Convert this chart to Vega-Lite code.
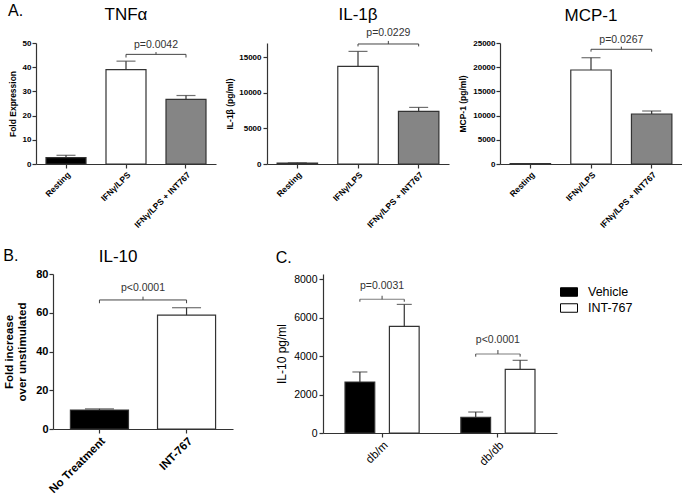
{
  "$schema": "https://vega.github.io/schema/vega-lite/v6.json",
  "background": "white",
  "padding": {"left": 3, "top": 2, "right": 0, "bottom": 0},
  "config": {
    "view": {"stroke": null},
    "font": "Liberation Sans",
    "axis": {"grid": false, "domainColor": "#333", "tickColor": "#333", "labelColor": "#000", "titleColor": "#000", "labelFont": "Liberation Sans", "titleFont": "Liberation Sans", "domainWidth": 1.2, "tickWidth": 1.2, "tickSize": 4},
    "axisY": {"labelOverlap": false},
    "title": {"font": "Liberation Sans", "fontWeight": "normal", "fontSize": 17, "color": "#000"},
    "text": {"font": "Liberation Sans"}
  },
  "datasets": {
    "tnf": [{"c": "Resting", "v": 2.6, "e": 3.6}, {"c": "IFNγ/LPS", "v": 39.0, "e": 42.5}, {"c": "IFNγ/LPS + INT767", "v": 26.7, "e": 28.3}],
    "tnf_a": [{"k": "cap", "c": "Resting", "v": 3.6}, {"k": "cap", "c": "IFNγ/LPS", "v": 42.5}, {"k": "cap", "c": "IFNγ/LPS + INT767", "v": 28.3},
              {"k": "end", "c": "IFNγ/LPS", "v": 45.3, "v2": 44.0}, {"k": "end", "c": "IFNγ/LPS + INT767", "v": 45.3, "v2": 44.0},
              {"k": "mid", "c": "IFNγ/LPS", "v": 45.3, "v2": 46.25}, {"k": "p", "c": "IFNγ/LPS", "v": 47.8, "p": "p=0.0042"}],
    "il1b": [{"c": "Resting", "v": 120, "e": 160}, {"c": "IFNγ/LPS", "v": 13710, "e": 15820}, {"c": "IFNγ/LPS + INT767", "v": 7390, "e": 7950}],
    "il1b_a": [{"k": "cap", "c": "Resting", "v": 160}, {"k": "cap", "c": "IFNγ/LPS", "v": 15820}, {"k": "cap", "c": "IFNγ/LPS + INT767", "v": 7950},
               {"k": "end", "c": "IFNγ/LPS", "v": 16860, "v2": 16520}, {"k": "end", "c": "IFNγ/LPS + INT767", "v": 16860, "v2": 16520},
               {"k": "mid", "c": "IFNγ/LPS", "v": 16860, "v2": 17290}, {"k": "p", "c": "IFNγ/LPS", "v": 18030, "p": "p=0.0229"}],
    "mcp": [{"c": "Resting", "v": 60, "e": 80}, {"c": "IFNγ/LPS", "v": 19420, "e": 21960}, {"c": "IFNγ/LPS + INT767", "v": 10330, "e": 10950}],
    "mcp_a": [{"k": "cap", "c": "Resting", "v": 80}, {"k": "cap", "c": "IFNγ/LPS", "v": 21960}, {"k": "cap", "c": "IFNγ/LPS + INT767", "v": 10950},
              {"k": "end", "c": "IFNγ/LPS", "v": 23700, "v2": 23210}, {"k": "end", "c": "IFNγ/LPS + INT767", "v": 23700, "v2": 23210},
              {"k": "mid", "c": "IFNγ/LPS", "v": 23700, "v2": 24240}, {"k": "p", "c": "IFNγ/LPS", "v": 25060, "p": "p=0.0267"}],
    "il10": [{"c": "No Treatment", "v": 9.8, "e": 10.4}, {"c": "INT-767", "v": 58.8, "e": 62.6}],
    "il10_a": [{"k": "cap", "c": "No Treatment", "v": 10.4}, {"k": "cap", "c": "INT-767", "v": 62.6},
               {"k": "end", "c": "No Treatment", "v": 66.6, "v2": 64.9}, {"k": "end", "c": "INT-767", "v": 66.6, "v2": 64.9},
               {"k": "mid", "c": "No Treatment", "v": 66.6, "v2": 68.3}, {"k": "p", "c": "No Treatment", "v": 71.4, "p": "p<0.0001"}],
    "cc": [{"g": "db/m", "t": "Vehicle", "v": 2650, "e": 3170}, {"g": "db/m", "t": "INT-767", "v": 5540, "e": 6680}, {"g": "db/db", "t": "Vehicle", "v": 815, "e": 1090}, {"g": "db/db", "t": "INT-767", "v": 3310, "e": 3775}],
    "cc_a": [{"k": "cap", "g": "db/m", "t": "Vehicle", "v": 3170}, {"k": "cap", "g": "db/m", "t": "INT-767", "v": 6680}, {"k": "cap", "g": "db/db", "t": "Vehicle", "v": 1090}, {"k": "cap", "g": "db/db", "t": "INT-767", "v": 3775},
             {"k": "end", "g": "db/m", "t": "Vehicle", "v": 6945, "v2": 6820}, {"k": "end", "g": "db/m", "t": "INT-767", "v": 6945, "v2": 6820},
             {"k": "end", "g": "db/db", "t": "Vehicle", "v": 4105, "v2": 3965}, {"k": "end", "g": "db/db", "t": "INT-767", "v": 4105, "v2": 3965},
             {"k": "mid", "g": "db/m", "v": 6945, "v2": 7130}, {"k": "mid", "g": "db/db", "v": 4105, "v2": 4310},
             {"k": "p", "g": "db/m", "v": 7465, "p": "p=0.0031"}, {"k": "p", "g": "db/db", "v": 4660, "p": "p<0.0001"}]
  },
  "columns": 1,
  "align": "none",
  "spacing": 19,
  "resolve": {"scale": {"fill": "independent"}, "legend": {"fill": "independent"}},
  "concat": [
    {
      "title": {"text": "A.", "anchor": "start", "frame": "bounds", "offset": -13, "fontSize": 16},
      "spacing": 9,
      "resolve": {"scale": {"fill": "independent"}, "legend": {"fill": "independent"}},
      "hconcat": [
        {
          "width": 180, "height": 121,
          "title": {"text": "TNFα", "offset": 15},
          "encoding": {
            "x": {"field": "c", "type": "nominal", "title": null, "scale": {"domain": ["Resting", "IFNγ/LPS", "IFNγ/LPS + INT767"], "paddingInner": 0.3333, "paddingOuter": 0.1667}, "axis": {"labelAngle": -45, "labelFontWeight": "bold", "labelFontSize": 8.5, "labelPadding": 2}},
            "y": {"field": "v", "type": "quantitative", "title": "Fold Expression", "scale": {"domain": [0, 50], "nice": false}, "axis": {"values": [0, 10, 20, 30, 40, 50], "format": "d", "labelOverlap": false, "labelFontWeight": "bold", "labelFontSize": 8, "titleFontWeight": "bold", "titleFontSize": 8.5, "labelPadding": 1, "titlePadding": 5}}
          },
          "layer": [
            {"data": {"name": "tnf"}, "mark": {"type": "bar", "stroke": "#333", "strokeWidth": 1.2},
             "encoding": {"fill": {"field": "c", "type": "nominal", "legend": null, "scale": {"domain": ["Resting", "IFNγ/LPS", "IFNγ/LPS + INT767"], "range": ["#000000", "#ffffff", "#858585"]}}}},
            {"data": {"name": "tnf"}, "mark": {"type": "rule", "stroke": "#333", "strokeWidth": 1.2}, "encoding": {"y2": {"field": "e"}}},
            {"data": {"name": "tnf_a"}, "transform": [{"filter": "datum.k === 'cap'"}], "mark": {"type": "tick", "size": 19, "thickness": 1.2, "color": "#333"}, "encoding": {}},
            {"data": {"name": "tnf_a"}, "transform": [{"filter": "datum.k === 'end'"}], "mark": {"type": "line", "stroke": "#444", "strokeWidth": 1}, "encoding": {}},
            {"data": {"name": "tnf_a"}, "transform": [{"filter": "datum.k === 'end'"}], "mark": {"type": "rule", "stroke": "#444", "strokeWidth": 1}, "encoding": {"y2": {"field": "v2"}}},
            {"data": {"name": "tnf_a"}, "transform": [{"filter": "datum.k === 'mid'"}], "mark": {"type": "rule", "stroke": "#444", "strokeWidth": 1},
             "encoding": {"x": {"field": "c", "type": "nominal", "bandPosition": 1.25, "title": null, "scale": {"domain": ["Resting", "IFNγ/LPS", "IFNγ/LPS + INT767"], "paddingInner": 0.3333, "paddingOuter": 0.1667}, "axis": {"labelAngle": -45, "labelFontWeight": "bold", "labelFontSize": 8.5, "labelPadding": 2}}, "y2": {"field": "v2"}}},
            {"data": {"name": "tnf_a"}, "transform": [{"filter": "datum.k === 'p'"}], "mark": {"type": "text", "fontSize": 10.5, "baseline": "alphabetic", "color": "#333"},
             "encoding": {"x": {"field": "c", "type": "nominal", "bandPosition": 1.25, "title": null, "scale": {"domain": ["Resting", "IFNγ/LPS", "IFNγ/LPS + INT767"], "paddingInner": 0.3333, "paddingOuter": 0.1667}, "axis": {"labelAngle": -45, "labelFontWeight": "bold", "labelFontSize": 8.5, "labelPadding": 2}}, "text": {"field": "p"}}}
          ]
        },
        {
          "width": 182, "height": 121,
          "title": {"text": "IL-1β", "offset": 4},
          "encoding": {
            "x": {"field": "c", "type": "nominal", "title": null, "scale": {"domain": ["Resting", "IFNγ/LPS", "IFNγ/LPS + INT767"], "paddingInner": 0.3333, "paddingOuter": 0.1667}, "axis": {"labelAngle": -45, "labelFontWeight": "bold", "labelFontSize": 8.5, "labelPadding": 2}},
            "y": {"field": "v", "type": "quantitative", "title": "IL-1β (pg/ml)", "scale": {"domain": [0, 17000], "nice": false}, "axis": {"values": [0, 5000, 10000, 15000], "format": "d", "labelOverlap": false, "labelFontWeight": "bold", "labelFontSize": 8, "titleFontWeight": "bold", "titleFontSize": 8.5, "labelPadding": 2, "titlePadding": 4}}
          },
          "layer": [
            {"data": {"name": "il1b"}, "mark": {"type": "bar", "stroke": "#333", "strokeWidth": 1.2},
             "encoding": {"fill": {"field": "c", "type": "nominal", "legend": null, "scale": {"domain": ["Resting", "IFNγ/LPS", "IFNγ/LPS + INT767"], "range": ["#000000", "#ffffff", "#858585"]}}}},
            {"data": {"name": "il1b"}, "mark": {"type": "rule", "stroke": "#333", "strokeWidth": 1.2}, "encoding": {"y2": {"field": "e"}}},
            {"data": {"name": "il1b_a"}, "transform": [{"filter": "datum.k === 'cap'"}], "mark": {"type": "tick", "size": 19, "thickness": 1.2, "color": "#333"}, "encoding": {}},
            {"data": {"name": "il1b_a"}, "transform": [{"filter": "datum.k === 'end'"}], "mark": {"type": "line", "stroke": "#444", "strokeWidth": 1}, "encoding": {}},
            {"data": {"name": "il1b_a"}, "transform": [{"filter": "datum.k === 'end'"}], "mark": {"type": "rule", "stroke": "#444", "strokeWidth": 1}, "encoding": {"y2": {"field": "v2"}}},
            {"data": {"name": "il1b_a"}, "transform": [{"filter": "datum.k === 'mid'"}], "mark": {"type": "rule", "stroke": "#444", "strokeWidth": 1},
             "encoding": {"x": {"field": "c", "type": "nominal", "bandPosition": 1.25, "title": null, "scale": {"domain": ["Resting", "IFNγ/LPS", "IFNγ/LPS + INT767"], "paddingInner": 0.3333, "paddingOuter": 0.1667}, "axis": {"labelAngle": -45, "labelFontWeight": "bold", "labelFontSize": 8.5, "labelPadding": 2}}, "y2": {"field": "v2"}}},
            {"data": {"name": "il1b_a"}, "transform": [{"filter": "datum.k === 'p'"}], "mark": {"type": "text", "fontSize": 10.5, "baseline": "alphabetic", "color": "#333"},
             "encoding": {"x": {"field": "c", "type": "nominal", "bandPosition": 1.25, "title": null, "scale": {"domain": ["Resting", "IFNγ/LPS", "IFNγ/LPS + INT767"], "paddingInner": 0.3333, "paddingOuter": 0.1667}, "axis": {"labelAngle": -45, "labelFontWeight": "bold", "labelFontSize": 8.5, "labelPadding": 2}}, "text": {"field": "p"}}}
          ]
        },
        {
          "width": 182, "height": 121,
          "title": {"text": "MCP-1", "offset": 10},
          "encoding": {
            "x": {"field": "c", "type": "nominal", "title": null, "scale": {"domain": ["Resting", "IFNγ/LPS", "IFNγ/LPS + INT767"], "paddingInner": 0.3333, "paddingOuter": 0.1667}, "axis": {"labelAngle": -45, "labelFontWeight": "bold", "labelFontSize": 8.5, "labelPadding": 2}},
            "y": {"field": "v", "type": "quantitative", "title": "MCP-1 (pg/ml)", "scale": {"domain": [0, 25000], "nice": false}, "axis": {"values": [0, 5000, 10000, 15000, 20000, 25000], "format": "d", "labelOverlap": false, "labelFontWeight": "bold", "labelFontSize": 8, "titleFontWeight": "bold", "titleFontSize": 8.5, "labelPadding": 1, "titlePadding": 5}}
          },
          "layer": [
            {"data": {"name": "mcp"}, "mark": {"type": "bar", "stroke": "#333", "strokeWidth": 1.2},
             "encoding": {"fill": {"field": "c", "type": "nominal", "legend": null, "scale": {"domain": ["Resting", "IFNγ/LPS", "IFNγ/LPS + INT767"], "range": ["#000000", "#ffffff", "#858585"]}}}},
            {"data": {"name": "mcp"}, "mark": {"type": "rule", "stroke": "#333", "strokeWidth": 1.2}, "encoding": {"y2": {"field": "e"}}},
            {"data": {"name": "mcp_a"}, "transform": [{"filter": "datum.k === 'cap'"}], "mark": {"type": "tick", "size": 19, "thickness": 1.2, "color": "#333"}, "encoding": {}},
            {"data": {"name": "mcp_a"}, "transform": [{"filter": "datum.k === 'end'"}], "mark": {"type": "line", "stroke": "#444", "strokeWidth": 1}, "encoding": {}},
            {"data": {"name": "mcp_a"}, "transform": [{"filter": "datum.k === 'end'"}], "mark": {"type": "rule", "stroke": "#444", "strokeWidth": 1}, "encoding": {"y2": {"field": "v2"}}},
            {"data": {"name": "mcp_a"}, "transform": [{"filter": "datum.k === 'mid'"}], "mark": {"type": "rule", "stroke": "#444", "strokeWidth": 1},
             "encoding": {"x": {"field": "c", "type": "nominal", "bandPosition": 1.25, "title": null, "scale": {"domain": ["Resting", "IFNγ/LPS", "IFNγ/LPS + INT767"], "paddingInner": 0.3333, "paddingOuter": 0.1667}, "axis": {"labelAngle": -45, "labelFontWeight": "bold", "labelFontSize": 8.5, "labelPadding": 2}}, "y2": {"field": "v2"}}},
            {"data": {"name": "mcp_a"}, "transform": [{"filter": "datum.k === 'p'"}], "mark": {"type": "text", "fontSize": 10.5, "baseline": "alphabetic", "color": "#333"},
             "encoding": {"x": {"field": "c", "type": "nominal", "bandPosition": 1.25, "title": null, "scale": {"domain": ["Resting", "IFNγ/LPS", "IFNγ/LPS + INT767"], "paddingInner": 0.3333, "paddingOuter": 0.1667}, "axis": {"labelAngle": -45, "labelFontWeight": "bold", "labelFontSize": 8.5, "labelPadding": 2}}, "text": {"field": "p"}}}
          ]
        }
      ]
    },
    {
      "title": {"text": "B.", "anchor": "start", "frame": "bounds", "offset": -16, "fontSize": 16},
      "spacing": 42,
      "resolve": {"scale": {"fill": "independent"}, "legend": {"fill": "independent"}},
      "hconcat": [
        {
          "width": 197, "height": 155,
          "title": {"text": "IL-10", "offset": 2, "frame": "bounds"},
          "encoding": {
            "x": {"field": "c", "type": "nominal", "title": null, "scale": {"domain": ["No Treatment", "INT-767"], "range": [17, 197], "paddingInner": 0.3333, "paddingOuter": 0.2}, "axis": {"labelAngle": -45, "labelFontWeight": "bold", "labelFontSize": 11.5, "labelPadding": 2}},
            "y": {"field": "v", "type": "quantitative", "title": ["Fold increase", "over unstimulated"], "scale": {"domain": [0, 80], "nice": false}, "axis": {"offset": -17, "values": [0, 20, 40, 60, 80], "format": "d", "labelOverlap": false, "labelFontWeight": "bold", "labelFontSize": 11, "titleFontWeight": "bold", "titleFontSize": 11.5, "labelPadding": 1, "titlePadding": 8}}
          },
          "layer": [
            {"data": {"name": "il10"}, "mark": {"type": "bar", "stroke": "#333", "strokeWidth": 1.2},
             "encoding": {"fill": {"field": "c", "type": "nominal", "legend": null, "scale": {"domain": ["No Treatment", "INT-767"], "range": ["#000000", "#ffffff"]}}}},
            {"data": {"name": "il10"}, "mark": {"type": "rule", "stroke": "#333", "strokeWidth": 1.2}, "encoding": {"y2": {"field": "e"}}},
            {"data": {"name": "il10_a"}, "transform": [{"filter": "datum.k === 'cap'"}], "mark": {"type": "tick", "size": 29, "thickness": 1.2, "color": "#333"}, "encoding": {}},
            {"data": {"name": "il10_a"}, "transform": [{"filter": "datum.k === 'end'"}], "mark": {"type": "line", "stroke": "#444", "strokeWidth": 1}, "encoding": {}},
            {"data": {"name": "il10_a"}, "transform": [{"filter": "datum.k === 'end'"}], "mark": {"type": "rule", "stroke": "#444", "strokeWidth": 1}, "encoding": {"y2": {"field": "v2"}}},
            {"data": {"name": "il10_a"}, "transform": [{"filter": "datum.k === 'mid'"}], "mark": {"type": "rule", "stroke": "#444", "strokeWidth": 1},
             "encoding": {"x": {"field": "c", "type": "nominal", "bandPosition": 1.25, "title": null, "scale": {"domain": ["No Treatment", "INT-767"], "range": [17, 197], "paddingInner": 0.3333, "paddingOuter": 0.2}, "axis": {"labelAngle": -45, "labelFontWeight": "bold", "labelFontSize": 11.5, "labelPadding": 2}}, "y2": {"field": "v2"}}},
            {"data": {"name": "il10_a"}, "transform": [{"filter": "datum.k === 'p'"}], "mark": {"type": "text", "fontSize": 10.5, "baseline": "alphabetic", "color": "#333"},
             "encoding": {"x": {"field": "c", "type": "nominal", "bandPosition": 1.25, "title": null, "scale": {"domain": ["No Treatment", "INT-767"], "range": [17, 197], "paddingInner": 0.3333, "paddingOuter": 0.2}, "axis": {"labelAngle": -45, "labelFontWeight": "bold", "labelFontSize": 11.5, "labelPadding": 2}}, "text": {"field": "p"}}}
          ]
        },
        {
          "width": 234, "height": 159,
          "title": {"text": "C.", "anchor": "start", "frame": "bounds", "offset": 8, "fontSize": 16},
          "encoding": {
            "x": {"field": "g", "type": "nominal", "title": null, "scale": {"domain": ["db/m", "db/db"], "paddingInner": 0.36, "paddingOuter": 0.19}, "axis": {"labelAngle": -45, "labelFontSize": 11.5, "labelPadding": 2}},
            "y": {"field": "v", "type": "quantitative", "title": "IL-10 pg/ml", "scale": {"domain": [0, 8260], "nice": false}, "axis": {"values": [0, 2000, 4000, 6000, 8000], "format": "d", "labelOverlap": false, "labelFontSize": 10.5, "titleFontSize": 12, "titleFontWeight": "normal", "labelPadding": 2, "titlePadding": 5}}
          },
          "layer": [
            {"data": {"name": "cc"}, "mark": {"type": "bar", "stroke": "#333", "strokeWidth": 1.2},
             "encoding": {"xOffset": {"field": "t", "type": "nominal", "scale": {"domain": ["Vehicle", "INT-767"], "paddingInner": 0.33, "paddingOuter": 0}},
                          "fill": {"field": "t", "type": "nominal", "scale": {"domain": ["Vehicle", "INT-767"], "range": ["#000000", "#ffffff"]},
                                   "legend": {"title": null, "orient": "none", "legendX": 237, "legendY": 9, "symbolType": "M-1,-0.5H1V0.5H-1Z", "symbolSize": 289, "symbolStrokeColor": "#000", "symbolStrokeWidth": 1, "labelFontSize": 12.5, "labelFont": "Liberation Sans", "labelColor": "#000", "labelOffset": 10, "rowPadding": -1, "padding": 0}}}},
            {"data": {"name": "cc"}, "mark": {"type": "rule", "stroke": "#333", "strokeWidth": 1.2}, "encoding": {"xOffset": {"field": "t", "type": "nominal", "scale": {"domain": ["Vehicle", "INT-767"], "paddingInner": 0.33, "paddingOuter": 0}}, "y2": {"field": "e"}}},
            {"data": {"name": "cc_a"}, "transform": [{"filter": "datum.k === 'cap'"}], "mark": {"type": "tick", "size": 15, "thickness": 1.2, "color": "#333"}, "encoding": {"xOffset": {"field": "t", "type": "nominal", "scale": {"domain": ["Vehicle", "INT-767"], "paddingInner": 0.33, "paddingOuter": 0}}}},
            {"data": {"name": "cc_a"}, "transform": [{"filter": "datum.k === 'end'"}], "mark": {"type": "rule", "stroke": "#444", "strokeWidth": 1}, "encoding": {"xOffset": {"field": "t", "type": "nominal", "scale": {"domain": ["Vehicle", "INT-767"], "paddingInner": 0.33, "paddingOuter": 0}}, "y2": {"field": "v2"}}},
            {"data": {"name": "cc_a"}, "transform": [{"filter": "datum.k === 'mid'"}], "mark": {"type": "tick", "size": 44.5, "thickness": 1, "color": "#444"}, "encoding": {}},
            {"data": {"name": "cc_a"}, "transform": [{"filter": "datum.k === 'mid'"}], "mark": {"type": "rule", "stroke": "#444", "strokeWidth": 1}, "encoding": {"y2": {"field": "v2"}}},
            {"data": {"name": "cc_a"}, "transform": [{"filter": "datum.k === 'p'"}], "mark": {"type": "text", "fontSize": 10.5, "baseline": "alphabetic", "color": "#333"}, "encoding": {"text": {"field": "p"}}}
          ]
        }
      ]
    }
  ]
}
